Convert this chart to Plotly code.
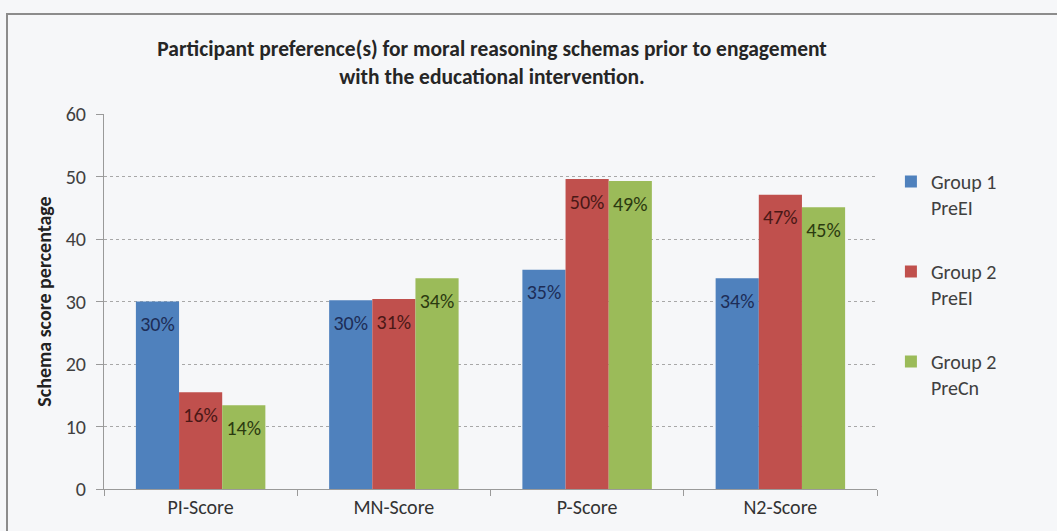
import plotly.graph_objects as go

categories = ["PI-Score", "MN-Score", "P-Score", "N2-Score"]
series_names = ["Group 1<br>PreEI", "Group 2<br>PreEI", "Group 2<br>PreCn"]
group1_preei = [30.0, 30.2, 35.1, 33.7]
group2_preei = [15.5, 30.4, 49.6, 47.1]
group2_precn = [13.4, 33.7, 49.3, 45.1]
label_g1 = ["30%", "30%", "35%", "34%"]
label_g2 = ["16%", "31%", "50%", "47%"]
label_g3 = ["14%", "34%", "49%", "45%"]
y_ticks = [0, 10, 20, 30, 40, 50, 60]

FONT = "Carlito, Calibri, 'Open Sans', sans-serif"
bar_colors = ["#4F81BD", "#C0504D", "#9BBB59"]
label_colors = ["#1d2d57", "#4a1816", "#2b3a10"]
all_vals = [group1_preei, group2_preei, group2_precn]
all_labels = [label_g1, label_g2, label_g3]

fig = go.Figure()
for i, (name, vals, col) in enumerate(zip(series_names, all_vals, bar_colors)):
    fig.add_trace(go.Bar(
        name=name, x=categories, y=vals,
        marker=dict(color=col, line=dict(width=0)),
        offsetgroup=str(i), legendgroup="g" + str(i), hoverinfo="skip",
    ))
for i, (vals, labels, lcol) in enumerate(zip(all_vals, all_labels, label_colors)):
    fig.add_trace(go.Scatter(
        x=categories, y=vals, text=labels, mode="markers+text",
        textposition="bottom center",
        marker=dict(size=22, opacity=0),
        textfont=dict(family=FONT, size=20, color=lcol),
        offsetgroup=str(i), legendgroup="g" + str(i),
        showlegend=False, hoverinfo="skip",
    ))

fig.update_layout(
    width=1057, height=531,
    margin=dict(l=104, r=180, t=114, b=42),
    paper_bgcolor="#f6f7f9", plot_bgcolor="#f6f7f9",
    barmode="group", bargap=0.33, bargroupgap=0,
    scattermode="group", scattergap=0.33,
    font=dict(family=FONT, size=20, color="#404040"),
    title=dict(
        text="<b>Participant preference(s) for moral reasoning schemas prior to engagement<br>with the educational intervention.</b>",
        x=0.4655, xref="container", xanchor="center",
        y=1 - 56 / 531, yref="container", yanchor="middle",
        font=dict(family=FONT, size=21.5, color="#262626"),
    ),
    legend=dict(
        x=1.018, xanchor="left", y=0.872, yanchor="top",
        font=dict(family=FONT, size=20, color="#404040"),
        tracegroupgap=35, bgcolor="rgba(0,0,0,0)",
        traceorder="grouped", valign="top",
    ),
    showlegend=True,
    xaxis=dict(
        showline=True, linecolor="#9a9a9a", linewidth=1,
        ticks="outside", tickson="boundaries", ticklen=6, tickcolor="#9a9a9a",
        tickfont=dict(family=FONT, size=20, color="#333333"),
        showgrid=False,
    ),
    yaxis=dict(
        range=[0, 60], tickvals=y_ticks,
        showline=True, linecolor="#9a9a9a", linewidth=1,
        ticks="outside", ticklen=7, tickcolor="#9a9a9a",
        ticklabelstandoff=6,
        showgrid=True, gridcolor="#a8a8a8", gridwidth=1, griddash="dot",
        zeroline=False,
        tickfont=dict(family=FONT, size=20, color="#404040"),
        title=dict(text="<b>Schema score percentage</b>", standoff=8,
                   font=dict(family=FONT, size=20, color="#222222")),
    ),
    shapes=[dict(type="rect", xref="paper", yref="paper",
                 x0=-97 / 773, x1=1000 / 773, y0=-0.3, y1=(531 - 14 - 42) / 375,
                 line=dict(color="#8c8c8c", width=2), fillcolor="rgba(0,0,0,0)",
                 layer="below")],
)

fig.write_html("out.html")
